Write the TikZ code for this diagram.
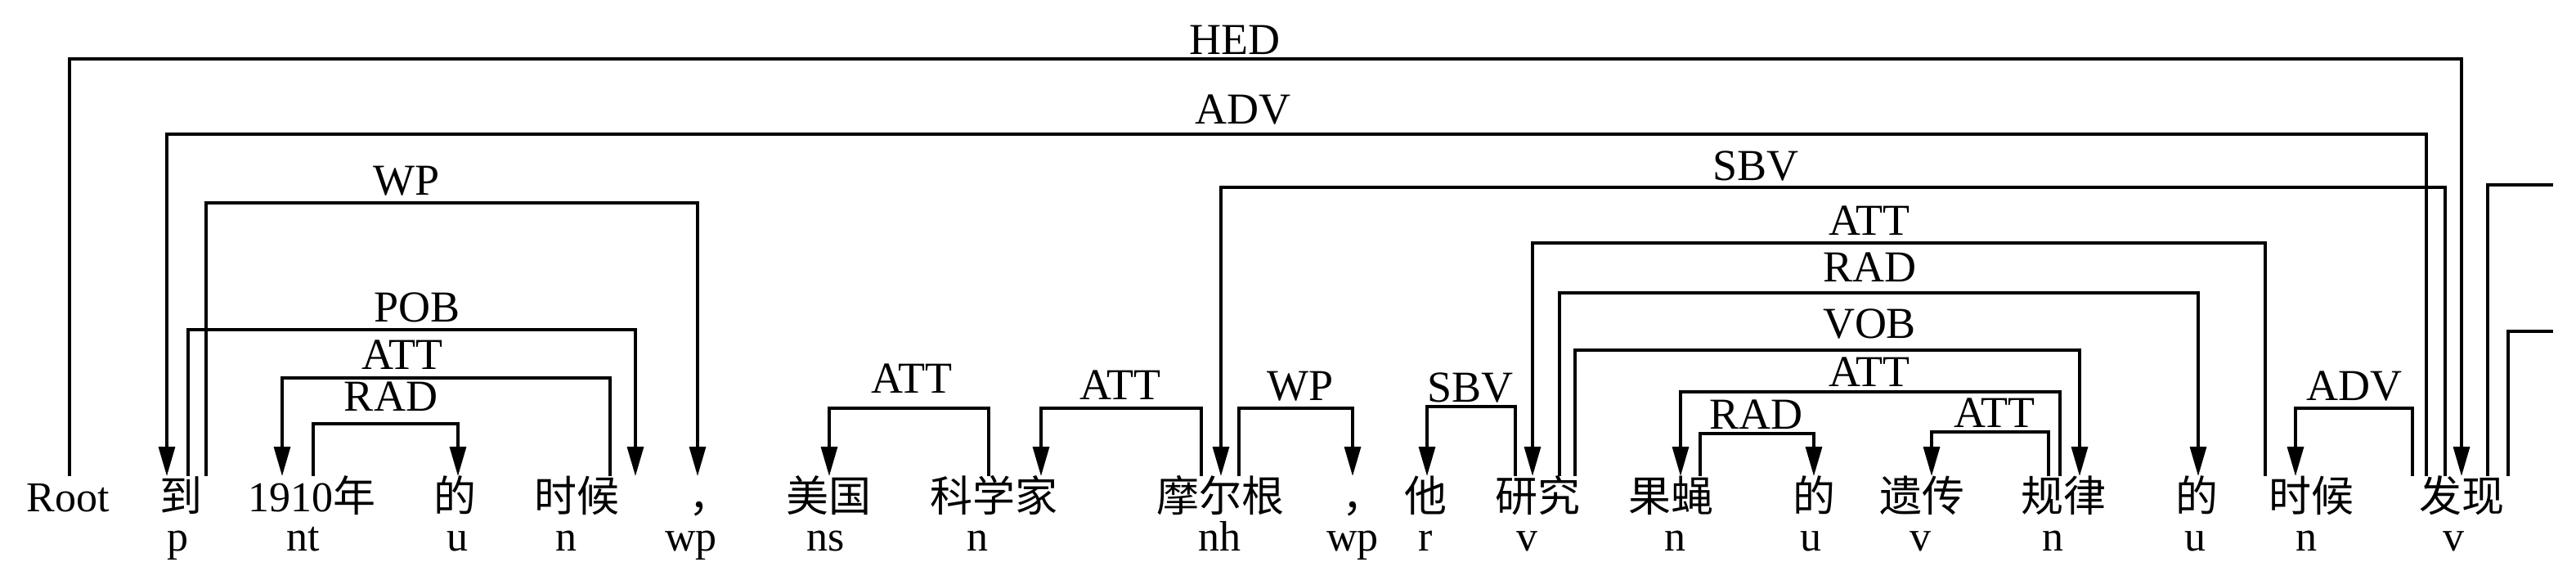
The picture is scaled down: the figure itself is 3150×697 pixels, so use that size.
\documentclass[tikz,border=0pt]{standalone}
\usepackage{fontspec}
\setmainfont{Liberation Serif}
\newfontfamily\cjk{Noto Sans CJK SC}
\usetikzlibrary{arrows.meta}
\begin{document}
\begin{tikzpicture}[x=0.25pt,y=-0.25pt,
  word/.style={font=\fontsize{13pt}{15pt}\selectfont, inner sep=0pt, anchor=base},
  postag/.style={font=\fontsize{13pt}{15pt}\selectfont, inner sep=0pt, anchor=base},
  rel/.style={font=\fontsize{13.5pt}{15pt}\selectfont, inner sep=0pt, anchor=base},
  link/.style={line width=0.8pt},
  dep/.style={link, -{Triangle[length=9pt,width=5pt]}}]
\useasboundingbox (0,0) rectangle (3150,697);

% words
\node[word] (w0) at (83,625) {Root};
\node[word] (w1) at (221,625) {\cjk 到};
\node[word] (w2) at (381,625) {1910\cjk 年};
\node[word] (w3) at (556,625) {\cjk 的};
\node[word] (w4) at (705,625) {\cjk 时候};
\node[word,anchor=base west] (w5) at (842,625) {\cjk ，};
\node[word] (w6) at (1013,625) {\cjk 美国};
\node[word] (w7) at (1215,625) {\cjk 科学家};
\node[word] (w8) at (1492,625) {\cjk 摩尔根};
\node[word,anchor=base west] (w9) at (1641,625) {\cjk ，};
\node[word] (w10) at (1743,625) {\cjk 他};
\node[word] (w11) at (1880,625) {\cjk 研究};
\node[word] (w12) at (2043,625) {\cjk 果蝇};
\node[word] (w13) at (2218,625) {\cjk 的};
\node[word] (w14) at (2350,625) {\cjk 遗传};
\node[word] (w15) at (2523,625) {\cjk 规律};
\node[word] (w16) at (2686,625) {\cjk 的};
\node[word] (w17) at (2826,625) {\cjk 时候};
\node[word] (w18) at (3010,625) {\cjk 发现};

% POS tags
\node[postag] (t1) at (217,673) {p};
\node[postag] (t2) at (371,673) {nt};
\node[postag] (t3) at (559,673) {u};
\node[postag] (t4) at (692,673) {n};
\node[postag] (t5) at (845,673) {wp};
\node[postag] (t6) at (1010,673) {ns};
\node[postag] (t7) at (1195,673) {n};
\node[postag] (t8) at (1491,673) {nh};
\node[postag] (t9) at (1654,673) {wp};
\node[postag] (t10) at (1743,673) {r};
\node[postag] (t11) at (1867,673) {v};
\node[postag] (t12) at (2048,673) {n};
\node[postag] (t13) at (2214,673) {u};
\node[postag] (t14) at (2348,673) {v};
\node[postag] (t15) at (2510,673) {n};
\node[postag] (t16) at (2684,673) {u};
\node[postag] (t17) at (2820,673) {n};
\node[postag] (t18) at (3000,673) {v};

% ports above the words
\coordinate (root-hed) at (85,582);
\coordinate (dao-adv) at (204,582);
\coordinate (dao-pob) at (230,582);
\coordinate (dao-wp) at (252,582);
\coordinate (yr-att) at (345,582);
\coordinate (yr-rad) at (383,582);
\coordinate (de1-rad) at (560,582);
\coordinate (sh1-att) at (746,582);
\coordinate (sh1-pob) at (777,582);
\coordinate (c1-wp) at (853,582);
\coordinate (mg-att) at (1014,582);
\coordinate (kx-att) at (1209,582);
\coordinate (kx-in) at (1273,582);
\coordinate (mrg-att) at (1469,582);
\coordinate (mrg-sbv) at (1493,582);
\coordinate (mrg-wp) at (1515,582);
\coordinate (c2-wp) at (1654,582);
\coordinate (ta-sbv) at (1745,582);
\coordinate (yj-sbv) at (1853,582);
\coordinate (yj-att) at (1874,582);
\coordinate (yj-rad) at (1907,582);
\coordinate (yj-vob) at (1926,582);
\coordinate (gy-att) at (2055,582);
\coordinate (gy-rad) at (2079,582);
\coordinate (de2-rad) at (2218,582);
\coordinate (yc-att) at (2362,582);
\coordinate (gl-att2) at (2505,582);
\coordinate (gl-att1) at (2519,582);
\coordinate (gl-vob) at (2543,582);
\coordinate (de3-rad) at (2688,582);
\coordinate (sh2-att) at (2770,582);
\coordinate (sh2-adv) at (2807,582);
\coordinate (fx-adv2) at (2950,582);
\coordinate (fx-adv) at (2967,582);
\coordinate (fx-sbv) at (2990,582);
\coordinate (fx-hed) at (3010,582);
\coordinate (fx-r1) at (3042,582);
\coordinate (fx-r2) at (3067,582);
\coordinate (off1) at (3122,226);
\coordinate (off2) at (3122,405);

% arcs
\draw[dep] (root-hed) -- ++(0,-510) -| (fx-hed);
\draw[dep] (fx-adv) -- ++(0,-418) -| (dao-adv);
\draw[dep] (dao-wp) -- ++(0,-334) -| (c1-wp);
\draw[dep] (dao-pob) -- ++(0,-179) -| (sh1-pob);
\draw[dep] (sh1-att) -- ++(0,-120) -| (yr-att);
\draw[dep] (yr-rad) -- ++(0,-64) -| (de1-rad);
\draw[dep] (kx-att) -- ++(0,-83) -| (mg-att);
\draw[dep] (mrg-att) -- ++(0,-83) -| (kx-in);
\draw[dep] (mrg-wp) -- ++(0,-83) -| (c2-wp);
\draw[dep] (yj-sbv) -- ++(0,-85) -| (ta-sbv);
\draw[dep] (fx-sbv) -- ++(0,-353) -| (mrg-sbv);
\draw[dep] (sh2-att) -- ++(0,-285) -| (yj-att);
\draw[dep] (yj-rad) -- ++(0,-224) -| (de3-rad);
\draw[dep] (yj-vob) -- ++(0,-154) -| (gl-vob);
\draw[dep] (gl-att1) -- ++(0,-103) -| (gy-att);
\draw[dep] (gy-rad) -- ++(0,-52) -| (de2-rad);
\draw[dep] (gl-att2) -- ++(0,-54) -| (yc-att);
\draw[dep] (fx-adv2) -- ++(0,-83) -| (sh2-adv);
\draw[link] (fx-r1) |- (off1);
\draw[link] (fx-r2) |- (off2);

% relation labels
\node[rel] (l1) at (1510,66) {HED};
\node[rel] (l2) at (1520,151) {ADV};
\node[rel] (l3) at (497,238) {WP};
\node[rel] (l4) at (510,393) {POB};
\node[rel] (l5) at (492,451) {ATT};
\node[rel] (l6) at (478,502) {RAD};
\node[rel] (l7) at (1115,480) {ATT};
\node[rel] (l8) at (1370,488) {ATT};
\node[rel] (l9) at (1590,489) {WP};
\node[rel] (l10) at (1798,491) {SBV};
\node[rel] (l11) at (2147,220) {SBV};
\node[rel] (l12) at (2286,287) {ATT};
\node[rel] (l13) at (2286,344) {RAD};
\node[rel] (l14) at (2286,413) {VOB};
\node[rel] (l15) at (2286,472) {ATT};
\node[rel] (l16) at (2147,524) {RAD};
\node[rel] (l17) at (2439,522) {ATT};
\node[rel] (l18) at (2879,489) {ADV};
\end{tikzpicture}
\end{document}
